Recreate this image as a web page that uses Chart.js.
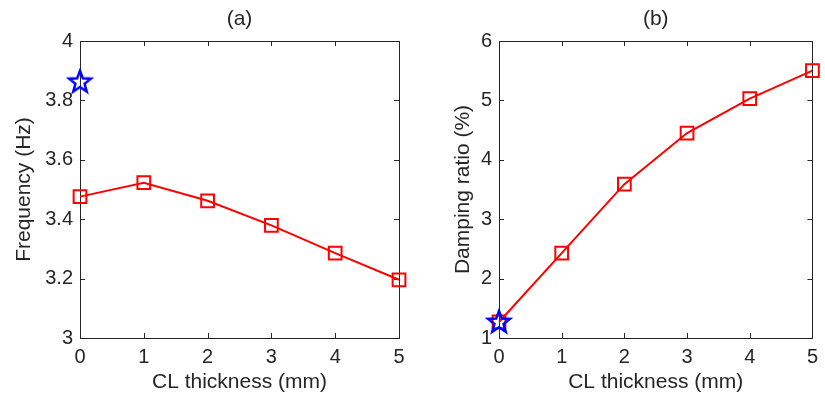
<!DOCTYPE html>
<html>
<head>
<meta charset="utf-8">
<script src="https://cdn.jsdelivr.net/npm/chart.js@4"></script>
<style>
    html, body { margin: 0; padding: 0; background: #ffffff; }
    #wrap { position: relative; width: 825px; height: 403px; }
    #leftBox { position: absolute; left: 0; top: 0; width: 420px; height: 403px; }
    #rightBox { position: absolute; left: 420px; top: 0; width: 405px; height: 403px; }
</style>
</head>
<body>
<div id="wrap">
    <div id="leftBox"><canvas id="freqChart" width="420" height="403"></canvas></div>
    <div id="rightBox"><canvas id="dampChart" width="405" height="403"></canvas></div>
</div>
<script>
// Data
const thickness = [0, 1, 2, 3, 4, 5];
const frequency = [3.476, 3.523, 3.462, 3.379, 3.286, 3.196];
const damping = [1.27, 2.43, 3.59, 4.45, 5.03, 5.50];
const refFrequency = [3.863];
const refDamping = [1.27];
const xTicks = [0, 1, 2, 3, 4, 5];
const freqTicks = [3, 3.2, 3.4, 3.6, 3.8, 4];
const dampTicks = [1, 2, 3, 4, 5, 6];

const textColor = '#262626';
const axisColor = '#262626';
const fontFamily = "'Liberation Sans', Arial, sans-serif";

// Five point star marker (like matlab 'p')
function makeStar() {
    const c = document.createElement('canvas');
    c.width = 28;
    c.height = 28;
    const g = c.getContext('2d');
    g.strokeStyle = '#0000ff';
    g.lineWidth = 2.5;
    g.lineJoin = 'miter';
    g.beginPath();
    for (let i = 0; i < 10; i++) {
        const r = i % 2 === 0 ? 11.5 : 4.8;
        const a = -Math.PI / 2 + i * Math.PI / 5;
        const px = 14 + r * Math.cos(a);
        const py = 14.5 + r * Math.sin(a);
        if (i === 0) g.moveTo(px, py); else g.lineTo(px, py);
    }
    g.closePath();
    g.stroke();
    return c;
}
const starImg = makeStar();

// inward tick marks on all four sides
const innerTicks = {
    id: 'innerTicks',
    beforeDatasetsDraw(chart) {
        const ctx = chart.ctx;
        const a = chart.chartArea;
        const xs = chart.scales.x;
        const ys = chart.scales.y;
        const len = 5;
        ctx.save();
        ctx.strokeStyle = axisColor;
        ctx.lineWidth = 1;
        ctx.beginPath();
        xs.ticks.forEach(t => {
            const px = Math.round(xs.getPixelForValue(t.value)) + 0.5;
            ctx.moveTo(px, a.bottom);
            ctx.lineTo(px, a.bottom - len);
            ctx.moveTo(px, a.top);
            ctx.lineTo(px, a.top + len);
        });
        ys.ticks.forEach(t => {
            const py = Math.round(ys.getPixelForValue(t.value)) + 0.5;
            ctx.moveTo(a.left, py);
            ctx.lineTo(a.left + len, py);
            ctx.moveTo(a.right, py);
            ctx.lineTo(a.right - len, py);
        });
        ctx.stroke();
        ctx.restore();
    }
};

function fmt(v) {
    return String(Number(v.toFixed(1)));
}

function makeChart(id, opts) {
    const ctx = document.getElementById(id).getContext('2d');
    const points = thickness.map((x, i) => ({ x: x, y: opts.values[i] }));
    const ref = opts.refValues.map(v => ({ x: 0, y: v }));

    return new Chart(ctx, {
        type: 'scatter',
        data: {
            datasets: [{
                data: ref,
                pointStyle: starImg,
                pointRadius: 11,
                showLine: false,
                clip: false
            }, {
                data: points,
                showLine: true,
                borderColor: '#ff0000',
                borderWidth: 2,
                pointStyle: 'rect',
                pointRadius: 9,
                pointBorderWidth: 2,
                pointBorderColor: '#ff0000',
                pointBackgroundColor: 'rgba(0,0,0,0)',
                clip: false
            }]
        },
        plugins: [innerTicks],
        options: {
            responsive: false,
            animation: false,
            events: [],
            layout: { padding: 0 },
            plugins: {
                legend: { display: false },
                tooltip: { enabled: false }
            },
            scales: {
                x: {
                    type: 'linear',
                    position: 'bottom',
                    min: 0,
                    max: 5,
                    afterBuildTicks: s => { s.ticks = xTicks.map(v => ({ value: v })); },
                    afterFit: s => { s.height = 65; },
                    grid: { display: false, drawTicks: false },
                    border: { display: true, color: axisColor, width: 1 },
                    ticks: {
                        color: textColor,
                        padding: 7,
                        maxRotation: 0,
                        font: { family: fontFamily, size: 20 }
                    },
                    title: {
                        display: true,
                        text: 'CL thickness (mm)',
                        color: textColor,
                        font: { family: fontFamily, size: 21 },
                        padding: { top: 0, bottom: 8 }
                    }
                },
                x2: {
                    type: 'linear',
                    position: 'top',
                    min: 0,
                    max: 5,
                    afterFit: s => { s.height = 41; },
                    grid: { display: false, drawTicks: false },
                    border: { display: true, color: axisColor, width: 1 },
                    ticks: { display: false },
                    title: {
                        display: true,
                        text: opts.title,
                        color: textColor,
                        font: { family: fontFamily, size: 21 },
                        padding: { top: 7, bottom: 0 }
                    }
                },
                y: {
                    type: 'linear',
                    position: 'left',
                    min: opts.yMin,
                    max: opts.yMax,
                    afterBuildTicks: s => { s.ticks = opts.yTicks.map(v => ({ value: v })); },
                    afterFit: s => { s.width = opts.leftWidth; },
                    grid: { display: false, drawTicks: false },
                    border: { display: true, color: axisColor, width: 1 },
                    ticks: {
                        color: textColor,
                        padding: 7,
                        callback: v => fmt(v),
                        font: { family: fontFamily, size: 20 }
                    },
                    title: {
                        display: true,
                        text: opts.yLabel,
                        color: textColor,
                        font: { family: fontFamily, size: 21 },
                        padding: { top: opts.yTitlePad, bottom: 0 }
                    }
                },
                y2: {
                    type: 'linear',
                    position: 'right',
                    min: opts.yMin,
                    max: opts.yMax,
                    afterFit: s => { s.width = opts.rightWidth; },
                    grid: { display: false, drawTicks: false },
                    border: { display: true, color: axisColor, width: 1 },
                    ticks: { display: false }
                }
            }
        }
    });
}

makeChart('freqChart', {
    title: '(a)',
    yLabel: 'Frequency (Hz)',
    values: frequency,
    refValues: refFrequency,
    yMin: 3,
    yMax: 4,
    yTicks: freqTicks,
    leftWidth: 80,
    rightWidth: 21,
    yTitlePad: 12
});

makeChart('dampChart', {
    title: '(b)',
    yLabel: 'Damping ratio (%)',
    values: damping,
    refValues: refDamping,
    yMin: 1,
    yMax: 6,
    yTicks: dampTicks,
    leftWidth: 79,
    rightWidth: 7,
    yTitlePad: 31
});
</script>
</body>
</html>
